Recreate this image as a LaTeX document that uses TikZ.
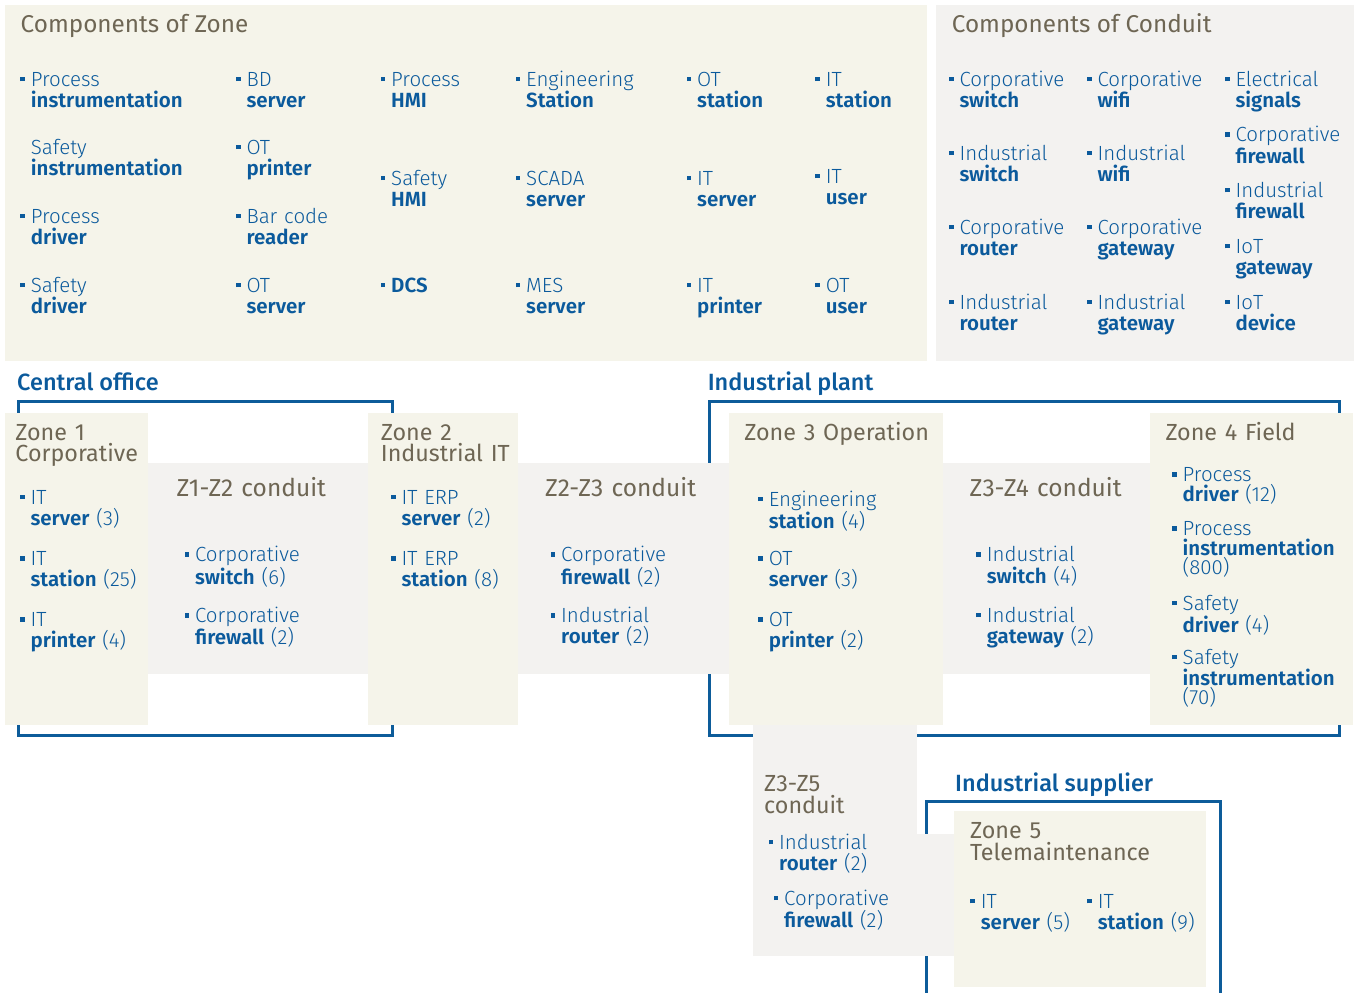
\documentclass[tikz,border=0pt]{standalone}
\usepackage{fontspec}
\setmainfont{Fira Sans}
\newfontfamily\lt{Fira Sans Light}
\newfontfamily\bd{Fira Sans SemiBold}
\newfontfamily\md{Fira Sans Medium}
\definecolor{ablue}{HTML}{0B5A9C}
\definecolor{fblue}{HTML}{0D5C9A}
\definecolor{abrown}{HTML}{6E6654}
\definecolor{zcream}{HTML}{F5F4EA}
\definecolor{cgray}{HTML}{F3F2F0}
% small square bullet hanging left of the item text
\newcommand\bul{\leavevmode\llap{\rule[5pt]{4.5pt}{4.5pt}\hspace{6pt}}}
\tikzset{
  item/.style={anchor=base west, inner sep=0pt, text width=220pt, align=left,
    text=ablue, font=\fontsize{20.5}{21.3}\selectfont\lt},
  tightitem/.style={item, font=\fontsize{20.5}{19.3}\selectfont\lt},
  ttl/.style={anchor=base west, inner sep=0pt, text width=260pt, align=left,
    text=abrown, font=\fontsize{23.3}{21.7}\selectfont},
  conttl/.style={ttl, font=\fontsize{24.5}{21.7}\selectfont},
  bigttl/.style={anchor=base west, inner sep=0pt, text=abrown,
    font=\fontsize{24.3}{24}\selectfont},
  site/.style={anchor=base west, inner sep=0pt, text=ablue,
    font=\fontsize{23.5}{24}\selectfont\md},
  zonefill/.style={fill=zcream},
  conduitfill/.style={fill=cgray},
  sitebox/.style={draw=fblue, line width=2.6pt}
}
\begin{document}
\begin{tikzpicture}[x=1pt,y=-1pt]
\useasboundingbox (0,0) rectangle (1360,993);

% ---------- legend panels ----------
\fill[zonefill] (5,5) rectangle (927,361);
\fill[conduitfill] (936,5) rectangle (1354,361);

\node[bigttl] (tz) at (20.5,32) {Components of Zone};
\node[bigttl] (tc) at (951.7,32) {Components of Conduit};

% zone components
\node[item] (z11) at (30.7,86)  {\bul Process\\\bd instrumentation};
\node[item] (z12) at (30.7,154) {Safety\\\bd instrumentation};
\node[item] (z13) at (30.7,223) {\bul Process\\\bd driver};
\node[item] (z14) at (30.7,292) {\bul Safety\\\bd driver};
\node[item] (z21) at (246.3,86)  {\bul BD\\\bd server};
\node[item] (z22) at (246.3,154) {\bul OT\\\bd printer};
\node[item] (z23) at (246.3,223) {\bul Bar code\\\bd reader};
\node[item] (z24) at (246.3,292) {\bul OT\\\bd server};
\node[item] (z31) at (391,86)  {\bul Process\\\bd HMI};
\node[item] (z32) at (391,185) {\bul Safety\\\bd HMI};
\node[item] (z34) at (391,292) {\bul\bd DCS};
\node[item] (z41) at (526,86)  {\bul Engineering\\\bd Station};
\node[item] (z42) at (526,185) {\bul SCADA\\\bd server};
\node[item] (z44) at (526,292) {\bul MES\\\bd server};
\node[item] (z51) at (697,86)  {\bul OT\\\bd station};
\node[item] (z52) at (697,185) {\bul IT\\\bd server};
\node[item] (z54) at (697,292) {\bul IT\\\bd printer};
\node[item] (z61) at (825.7,86)  {\bul IT\\\bd station};
\node[item] (z62) at (825.7,183) {\bul IT\\\bd user};
\node[item] (z64) at (825.7,292) {\bul OT\\\bd user};

% conduit components
\node[item] (k11) at (959.3,86)    {\bul Corporative\\\bd switch};
\node[item] (k12) at (959.3,160)   {\bul Industrial\\\bd switch};
\node[item] (k13) at (959.3,234.3) {\bul Corporative\\\bd router};
\node[item] (k14) at (959.3,309)   {\bul Industrial\\\bd router};
\node[item] (k21) at (1097.3,86)    {\bul Corporative\\\bd wifi};
\node[item] (k22) at (1097.3,160)   {\bul Industrial\\\bd wifi};
\node[item] (k23) at (1097.3,234.3) {\bul Corporative\\\bd gateway};
\node[item] (k24) at (1097.3,309)   {\bul Industrial\\\bd gateway};
\node[item] (k31) at (1235.3,86)    {\bul Electrical\\\bd signals};
\node[item] (k32) at (1235.3,141.7) {\bul Corporative\\\bd firewall};
\node[item] (k33) at (1235.3,197.3) {\bul Industrial\\\bd firewall};
\node[item] (k34) at (1235.3,253.3) {\bul IoT\\\bd gateway};
\node[item] (k35) at (1235.3,309)   {\bul IoT\\\bd device};

% ---------- site frames ----------
\node[site] (central) at (17,390) {Central office};
\node[site] (plant) at (707.6,390) {Industrial plant};
\node[site] (supplier) at (955,791.7) {Industrial supplier};
\draw[sitebox] (18.3,401.3) rectangle (392.3,735.7);
\draw[sitebox] (709.3,401.3) rectangle (1339.3,735.7);
\draw[sitebox] (926.3,993) -- (926.3,801.3) -- (1220.3,801.3) -- (1220.3,993);

% ---------- conduits ----------
\fill[conduitfill] (148,463.3) rectangle (368,673.7);
\fill[conduitfill] (518,463.3) rectangle (729,673.7);
\fill[conduitfill] (943,463.3) rectangle (1150,673.7);
\fill[conduitfill] (752.6,720) rectangle (917,956);
\fill[conduitfill] (916,834) rectangle (955,956);

% ---------- zones ----------
\fill[zonefill] (5,413) rectangle (148,724.7);
\fill[zonefill] (368,413) rectangle (518,724.7);
\fill[zonefill] (729,413) rectangle (943,724.7);
\fill[zonefill] (1150,413) rectangle (1353,724.7);
\fill[zonefill] (954,811) rectangle (1205.7,987);

% zone 1
\node[ttl] (zone1) at (15.2,440) {Zone 1\\Corporative};
\node[item] (a1) at (30.4,504)   {\bul IT\\{\bd server} (3)};
\node[item] (a2) at (30.4,565.5) {\bul IT\\{\bd station} (25)};
\node[item] (a3) at (30.4,626.5) {\bul IT\\{\bd printer} (4)};

% conduit Z1-Z2
\node[conttl] (c12) at (176.4,496.7) {Z1-Z2 conduit};
\node[item] (b1) at (194.9,561.7) {\bul Corporative\\{\bd switch} (6)};
\node[item] (b2) at (194.9,622.5) {\bul Corporative\\{\bd firewall} (2)};

% zone 2
\node[ttl] (zone2) at (380.7,440) {Zone 2\\Industrial IT};
\node[item] (d1) at (401.4,504)   {\bul IT ERP\\{\bd server} (2)};
\node[item] (d2) at (401.4,565.5) {\bul IT ERP\\{\bd station} (8)};

% conduit Z2-Z3
\node[conttl] (c23) at (545,496.7) {Z2-Z3 conduit};
\node[item] (e1) at (561,561.7) {\bul Corporative\\{\bd firewall} (2)};
\node[item] (e2) at (561,622.5) {\bul Industrial\\{\bd router} (2)};

% zone 3
\node[ttl] (zone3) at (744.2,440) {Zone 3 Operation};
\node[item] (f1) at (768.6,506)   {\bul Engineering\\{\bd station} (4)};
\node[item] (f2) at (768.6,565.5) {\bul OT\\{\bd server} (3)};
\node[item] (f3) at (768.6,626.5) {\bul OT\\{\bd printer} (2)};

% conduit Z3-Z4
\node[conttl] (c34) at (969.5,496.7) {Z3-Z4 conduit};
\node[item] (g1) at (986.7,561.7) {\bul Industrial\\{\bd switch} (4)};
\node[item] (g2) at (986.7,622)   {\bul Industrial\\{\bd gateway} (2)};

% zone 4
\node[ttl] (zone4) at (1165.3,440) {Zone 4 Field};
\node[tightitem] (h1) at (1182.5,481.7) {\bul Process\\{\bd driver} (12)};
\node[tightitem] (h2) at (1182.5,535.7) {\bul Process\\{\bd instrumentation}\\(800)};
\node[tightitem] (h3) at (1182.5,610)   {\bul Safety\\{\bd driver} (4)};
\node[tightitem] (h4) at (1182.5,664)   {\bul Safety\\{\bd instrumentation}\\(70)};

% conduit Z3-Z5
\node[ttl] (c35) at (764,791.7) {Z3-Z5\\conduit};
\node[item] (m1) at (779,849.3) {\bul Industrial\\{\bd router} (2)};
\node[item] (m2) at (784,905)   {\bul Corporative\\{\bd firewall} (2)};

% zone 5
\node[ttl] (zone5) at (970,838.3) {Zone 5\\Telemaintenance};
\node[item] (n1) at (980.7,908.3)  {\bul IT\\{\bd server} (5)};
\node[item] (n2) at (1097.7,908.3) {\bul IT\\{\bd station} (9)};
\end{tikzpicture}
\end{document}
